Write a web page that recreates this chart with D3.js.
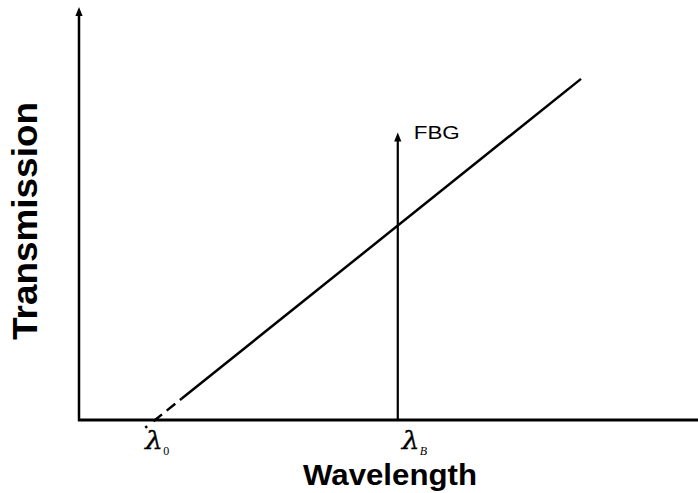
<!DOCTYPE html>
<html>
<head>
<meta charset="utf-8">
<script src="https://cdn.jsdelivr.net/npm/d3@7"></script>
<style>
  html, body { margin: 0; padding: 0; background: #fff; }
  svg { display: block; }
</style>
</head>
<body>
<svg id="chart" width="698" height="493"></svg>
<script>
// Wavelength in arbitrary units (0–100) and transmission in arbitrary units (0–100)
const lambda0 = 12.3;          // zero-transmission wavelength of the edge filter
const lambdaB = 51.5;          // Bragg wavelength of the FBG
const filterLine = [           // linear edge-filter transmission: [wavelength, transmission]
  [16.6, 5.2],
  [81.1, 82.6]
];
const filterExtrapolated = [   // dashed extrapolation down to lambda0
  [10.7, -1.9],
  [16.6, 5.2]
];
const fbgPeak = 69.6;          // height of the FBG reflection marker
const xTickLabels = [
  { value: lambda0, sym: "\u03BB", sub: "0" },
  { value: lambdaB, sym: "\u03BB", sub: "B" }
];
const axisTitles = { x: "Wavelength", y: "Transmission" };
const fbgLabel = "FBG";

const svg = d3.select("#chart");
const x = d3.scaleLinear().domain([0, 100]).range([79, 698]);
const y = d3.scaleLinear().domain([0, 100]).range([420, 7]);

const line = d3.line().x(d => x(d[0])).y(d => y(d[1]));

// vertical arrow helper: shaft plus filled triangular head
function arrowUp(cx, yBottom, yTip, width) {
  svg.append("line")
    .attr("x1", cx).attr("y1", yBottom)
    .attr("x2", cx).attr("y2", yTip + 5)
    .attr("stroke", "#000").attr("stroke-width", width);
  svg.append("path")
    .attr("d", `M${cx - 3.6},${yTip + 9} L${cx},${yTip} L${cx + 3.6},${yTip + 9} Z`)
    .attr("fill", "#000");
}

// y axis
arrowUp(x(0), y(0) + 1, y(100), 2.5);

// x axis
svg.append("line")
  .attr("x1", x(0) - 1).attr("y1", y(0))
  .attr("x2", x(100)).attr("y2", y(0))
  .attr("stroke", "#000").attr("stroke-width", 2.8);

// edge filter transmission line
svg.append("path")
  .datum(filterLine)
  .attr("d", line)
  .attr("fill", "none")
  .attr("stroke", "#000")
  .attr("stroke-width", 2.5);

svg.append("path")
  .datum(filterExtrapolated)
  .attr("d", line)
  .attr("fill", "none")
  .attr("stroke", "#000")
  .attr("stroke-width", 2.5)
  .attr("stroke-dasharray", "2.5,8,11,6,11,6");

// FBG marker
const fx = x(lambdaB);
arrowUp(fx, y(0), y(fbgPeak), 2.2);
svg.append("text")
  .attr("x", fx + 16).attr("y", y(fbgPeak) + 6)
  .attr("font-family", "Arial, 'Liberation Sans', sans-serif")
  .attr("font-size", 19)
  .attr("textLength", 46)
  .attr("lengthAdjust", "spacingAndGlyphs")
  .attr("fill", "#000")
  .text(fbgLabel);

// wavelength tick labels: lambda symbol with a separate subscript
const labelShift = d => d.sub === "0" ? -10 : 4;
svg.selectAll("text.sym").data(xTickLabels).enter()
  .append("text")
  .attr("class", "sym")
  .attr("x", d => x(d.value) + labelShift(d))
  .attr("y", 449)
  .attr("font-family", "'DejaVu Serif', serif")
  .attr("font-style", "italic")
  .attr("font-size", 25)
  .attr("textLength", 18)
  .attr("lengthAdjust", "spacingAndGlyphs")
  .attr("stroke", "#000")
  .attr("stroke-width", 0.3)
  .attr("fill", "#000")
  .text(d => d.sym);

svg.selectAll("text.sub").data(xTickLabels).enter()
  .append("text")
  .attr("class", "sub")
  .attr("x", d => x(d.value) + labelShift(d) + 18)
  .attr("y", 455)
  .attr("font-family", "'Liberation Serif', 'Times New Roman', serif")
  .attr("font-style", d => d.sub === "0" ? "normal" : "italic")
  .attr("font-size", 12)
  .attr("fill", "#000")
  .text(d => d.sub);

// axis titles
svg.append("text")
  .attr("x", 390).attr("y", 485)
  .attr("text-anchor", "middle")
  .attr("font-family", "Arial, 'Liberation Sans', sans-serif")
  .attr("font-weight", "bold")
  .attr("font-size", 30)
  .attr("textLength", 174)
  .attr("lengthAdjust", "spacingAndGlyphs")
  .attr("fill", "#000")
  .text(axisTitles.x);

svg.append("text")
  .attr("transform", "translate(37,221) rotate(-90)")
  .attr("text-anchor", "middle")
  .attr("font-family", "Arial, 'Liberation Sans', sans-serif")
  .attr("font-weight", "bold")
  .attr("font-size", 35)
  .attr("textLength", 238)
  .attr("lengthAdjust", "spacingAndGlyphs")
  .attr("fill", "#000")
  .text(axisTitles.y);
</script>
</body>
</html>
